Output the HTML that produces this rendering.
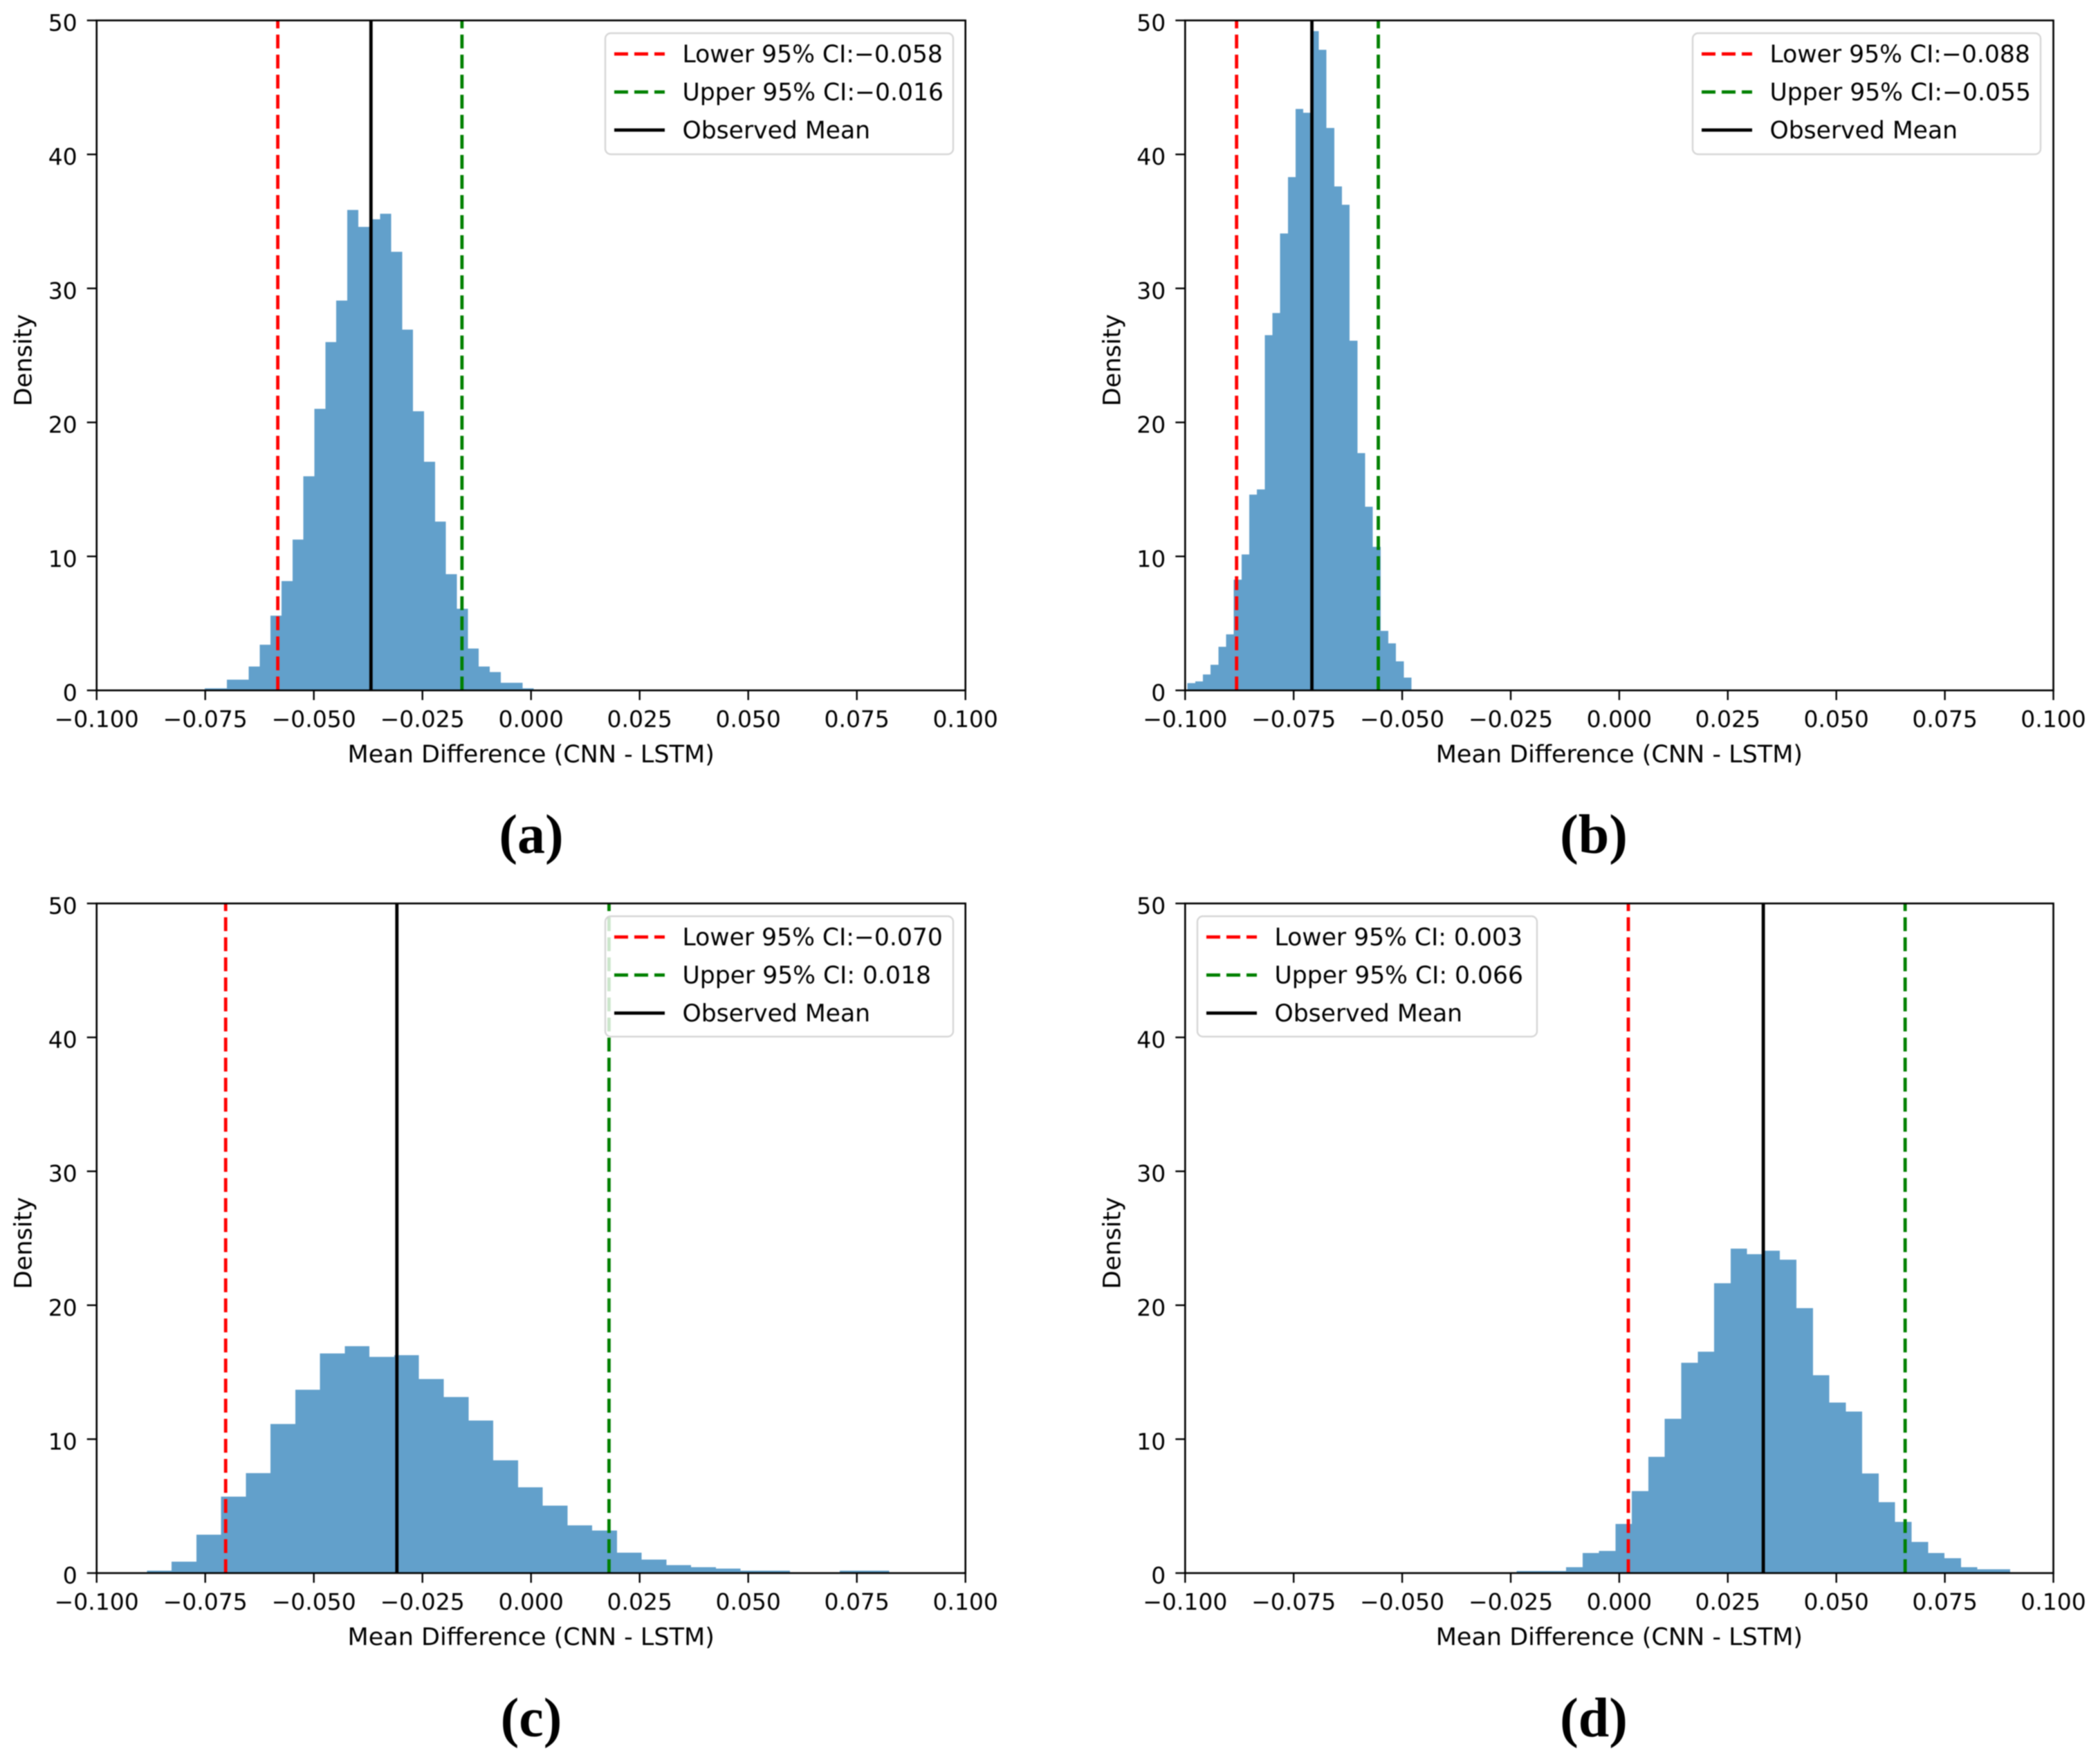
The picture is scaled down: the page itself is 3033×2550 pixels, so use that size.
<!DOCTYPE html>
<html lang="en">
<head>
<meta charset="utf-8">
<title>Bootstrap mean difference histograms (CNN - LSTM)</title>
<style>
  html, body { margin: 0; padding: 0; background: #fff; }
  svg { display: block; filter: blur(0.7px); }
  text { font-family: "DejaVu Sans", "Liberation Sans", sans-serif; fill: #000; }
  .caption { font-family: "Liberation Serif", serif; font-weight: bold; }
</style>
</head>
<body>
<svg id="figure" xmlns="http://www.w3.org/2000/svg" width="3033" height="2550" viewBox="0 0 3033 2550"></svg>
<script>
// ---- shared axis data ----
const xTickValues = [-0.1, -0.075, -0.05, -0.025, 0, 0.025, 0.05, 0.075, 0.1];
const xTickLabels = ['\u22120.100', '\u22120.075', '\u22120.050', '\u22120.025', '0.000', '0.025', '0.050', '0.075', '0.100'];
const yTickValues = [0, 10, 20, 30, 40, 50];
const yTickLabels = ['0', '10', '20', '30', '40', '50'];
const xDomain = [-0.1, 0.1];
const yDomain = [0, 50];

// ---- panel (a) ----
const aBinRange = [-0.0751, 0.0006];
const aDensity = [0.15, 0.15, 0.81, 0.81, 1.77, 3.4, 5.58, 8.16, 11.26, 15.97, 21.0, 26.0, 29.08, 35.85, 34.6, 35.17, 35.57, 32.73, 26.93, 20.84, 17.06, 12.6, 8.67, 6.1, 3.12, 1.77, 1.37, 0.56, 0.56, 0.15];
const aLines = [-0.0583, -0.0159, -0.03685];
const aLegend = ['Lower 95% CI:\u22120.058', 'Upper 95% CI:\u22120.016', 'Observed Mean'];

// ---- panel (b) ----
const bBinRange = [-0.09946, -0.04787];
const bDensity = [0.53, 0.66, 1.2, 1.9, 3.26, 4.18, 8.27, 10.15, 14.6, 15.0, 26.5, 28.15, 34.1, 38.3, 43.4, 43.1, 49.2, 47.8, 41.96, 37.6, 36.25, 26.1, 17.7, 13.7, 10.7, 4.45, 3.5, 2.17, 0.95];
const bLines = [-0.08815, -0.0555, -0.0708];
const bLegend = ['Lower 95% CI:\u22120.088', 'Upper 95% CI:\u22120.055', 'Observed Mean'];

// ---- panel (c) ----
const cBinRange = [-0.08844, 0.08242];
const cDensity = [0.19, 0.86, 2.87, 5.71, 7.47, 11.12, 13.7, 16.4, 16.94, 16.13, 16.27, 14.5, 13.15, 11.39, 8.43, 6.4, 5.04, 3.56, 3.17, 1.53, 1.0, 0.59, 0.45, 0.33, 0.19, 0.19, 0, 0, 0.19, 0.19];
const cLines = [-0.0703, 0.01795, -0.03088];
const cLegend = ['Lower 95% CI:\u22120.070', 'Upper 95% CI: 0.018', 'Observed Mean'];

// ---- panel (d) ----
const dBinRange = [-0.02362, 0.09008];
const dDensity = [0.15, 0.15, 0.15, 0.43, 1.51, 1.65, 3.68, 6.11, 8.69, 11.51, 15.71, 16.52, 21.65, 24.23, 23.82, 24.08, 23.41, 19.78, 14.77, 12.74, 12.05, 7.45, 5.3, 3.82, 2.32, 1.51, 1.1, 0.43, 0.29, 0.29];
const dLines = [0.00209, 0.06585, 0.03318];
const dLegend = ['Lower 95% CI: 0.003', 'Upper 95% CI: 0.066', 'Observed Mean'];

const NS = 'http://www.w3.org/2000/svg';
const figure = document.getElementById('figure');
const FONT = 33;
const LABEL_FONT = 35;

function make(parent, tag, attrs, txt) {
  const el = document.createElementNS(NS, tag);
  for (const k in attrs) el.setAttribute(k, attrs[k]);
  if (txt !== undefined) el.textContent = txt;
  parent.appendChild(el);
  return el;
}

function drawPanel(cfg) {
  const { key, letter, left, right, top, bottom, binRange, density, lines, legend, legendBox, captionX, captionY } = cfg;
  const x = v => left + (v - xDomain[0]) / (xDomain[1] - xDomain[0]) * (right - left);
  const y = v => bottom - (v - yDomain[0]) / (yDomain[1] - yDomain[0]) * (bottom - top);

  const g = make(figure, 'g', {});
  
  

  // histogram bars
  const bars = make(g, 'g', { 'shape-rendering': 'crispEdges' });
  
  
  const binWidth = (binRange[1] - binRange[0]) / density.length;
  density.forEach((d, i) => {
    const x0 = x(binRange[0] + i * binWidth);
    const x1 = x(binRange[0] + (i + 1) * binWidth);
    const r = make(bars, 'rect', { x: x0, y: y(d), width: x1 - x0, height: y(0) - y(d), fill: '#62a0cb' });
    
    
  });

  // reference lines (drawn bottom to top so dash phase starts at the axis)
  const styles = [
    { color: '#ff0000', dash: '20 9', name: 'lower-ci-line' },
    { color: '#008000', dash: '20 9', name: 'upper-ci-line' },
    { color: '#000000', dash: 'none', name: 'observed-mean-line' }
  ];
  lines.forEach((v, i) => {
    const l = make(g, 'line', { x1: x(v), x2: x(v), y1: y(yDomain[0]), y2: y(yDomain[1]), stroke: styles[i].color, 'stroke-width': 4.8, 'stroke-dasharray': styles[i].dash });
    
    
  });

  // axes frame
  const frame = make(g, 'rect', { x: left, y: top, width: right - left, height: bottom - top, fill: 'none', stroke: '#000', 'stroke-width': 2.6 });
  
  

  // x ticks
  xTickValues.forEach((v, i) => {
    const t = make(g, 'line', { x1: x(v), x2: x(v), y1: bottom, y2: bottom + 14, stroke: '#000', 'stroke-width': 2.4 });
    
    
    const lb = make(g, 'text', { x: x(v), y: bottom + 53, 'font-size': FONT, 'text-anchor': 'middle' }, xTickLabels[i]);
    
    
  });

  // y ticks
  yTickValues.forEach((v, i) => {
    const t = make(g, 'line', { x1: left - 14, x2: left, y1: y(v), y2: y(v), stroke: '#000', 'stroke-width': 2.4 });
    
    
    const lb = make(g, 'text', { x: left - 28, y: y(v) + 15, 'font-size': FONT, 'text-anchor': 'end' }, yTickLabels[i]);
    
    
  });

  // axis titles
  const xt = make(g, 'text', { x: (left + right) / 2, y: bottom + 104, 'font-size': LABEL_FONT, 'text-anchor': 'middle' }, 'Mean Difference (CNN - LSTM)');
  
  
  const ymid = (top + bottom) / 2 + 7;
  const yt = make(g, 'text', { x: 0, y: 0, 'font-size': LABEL_FONT, 'text-anchor': 'middle', transform: 'translate(' + (left - 94) + ' ' + ymid + ') rotate(-90)' }, 'Density');
  
  

  // legend
  const lg = make(g, 'g', {});
  
  
  make(lg, 'rect', { x: legendBox.x, y: legendBox.y, width: legendBox.w, height: legendBox.h, rx: 8, ry: 8, fill: '#fff', 'fill-opacity': 0.8, stroke: '#ccc', 'stroke-opacity': 0.8, 'stroke-width': 2.4 });
  legend.forEach((label, i) => {
    const cy = legendBox.y + 30 + i * 55;
    const row = make(lg, 'g', {});
    
    
    make(row, 'line', { x1: legendBox.x + 13, x2: legendBox.x + 86, y1: cy, y2: cy, stroke: styles[i].color, 'stroke-width': 4.8, 'stroke-dasharray': i < 2 ? '20 9' : 'none' });
    make(row, 'text', { x: legendBox.x + 111.5, y: cy + 12, 'font-size': LABEL_FONT - 0.4 }, label);
  });

  // caption
  const cap = make(g, 'text', { x: captionX, y: captionY, 'font-size': 80, 'text-anchor': 'middle', class: 'caption' }, '(' + letter + ')');
  
  
}

drawPanel({ key: 'a', letter: 'a', left: 139.7, right: 1395.7, top: 29.5, bottom: 998, binRange: aBinRange, density: aDensity, lines: aLines, legend: aLegend, legendBox: { x: 875, y: 48, w: 503, h: 175 }, captionX: 768, captionY: 1233 });
drawPanel({ key: 'b', letter: 'b', left: 1713.3, right: 2968.5, top: 29.5, bottom: 998, binRange: bBinRange, density: bDensity, lines: bLines, legend: bLegend, legendBox: { x: 2447, y: 48, w: 503, h: 175 }, captionX: 2304, captionY: 1233 });
drawPanel({ key: 'c', letter: 'c', left: 139.7, right: 1395.7, top: 1306, bottom: 2274, binRange: cBinRange, density: cDensity, lines: cLines, legend: cLegend, legendBox: { x: 875, y: 1324.5, w: 503, h: 174 }, captionX: 768, captionY: 2510 });
drawPanel({ key: 'd', letter: 'd', left: 1713.3, right: 2968.5, top: 1306, bottom: 2274, binRange: dBinRange, density: dDensity, lines: dLines, legend: dLegend, legendBox: { x: 1731, y: 1324.5, w: 491, h: 174 }, captionX: 2304, captionY: 2510 });
</script>
</body>
</html>
